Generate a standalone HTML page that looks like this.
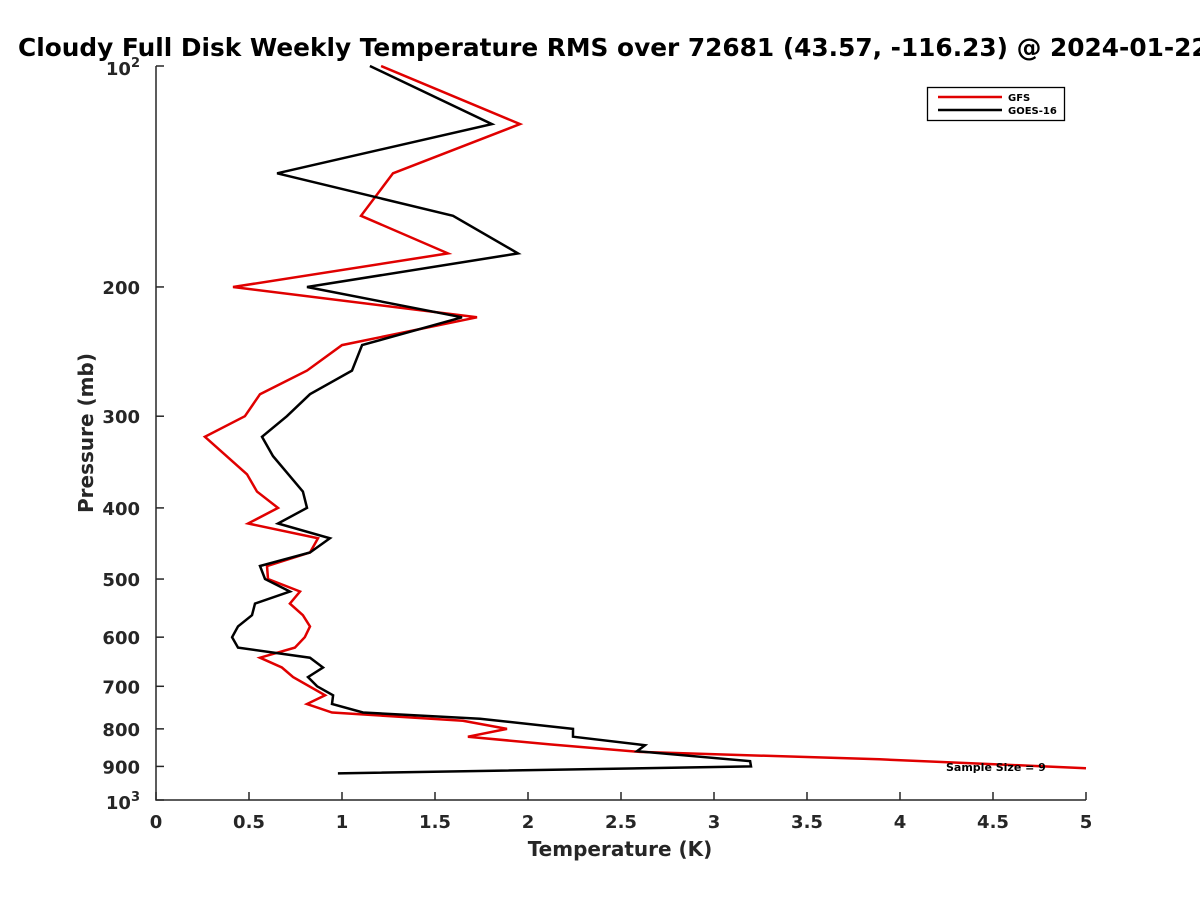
<!DOCTYPE html>
<html><head><meta charset="utf-8"><style>
body{margin:0;background:#fff;}
svg{display:block;font-family:"DejaVu Sans","Liberation Sans",sans-serif;font-weight:bold;}
</style></head><body>
<svg id="chart" width="1200" height="900" viewBox="0 0 1200 900">
<text x="18" y="56" font-size="24.8" fill="#000">Cloudy Full Disk Weekly Temperature RMS over 72681 (43.57, -116.23) @ 2024-01-22</text>
<g id="axes"></g>
<g id="series"></g>
<g>
<rect x="927.5" y="87.5" width="137" height="33" fill="#fff" stroke="#000" stroke-width="1.3"/>
<line x1="938" y1="97" x2="1002" y2="97" stroke="#e00000" stroke-width="2.5"/>
<text x="1008" y="101" font-size="10" fill="#000">GFS</text>
<line x1="938" y1="110" x2="1002" y2="110" stroke="#000" stroke-width="2.5"/>
<text x="1008" y="114" font-size="10" fill="#000">GOES-16</text>
</g>
<text x="946" y="771" font-size="11" fill="#000">Sample Size = 9</text>
<text x="620" y="856" font-size="20" fill="#262626" text-anchor="middle">Temperature (K)</text>
<text x="0" y="0" font-size="20" fill="#262626" text-anchor="middle" transform="translate(93,433) rotate(-90)">Pressure (mb)</text>
</svg>
<script>
const xTicks=[0,0.5,1,1.5,2,2.5,3,3.5,4,4.5,5];
const xTickLabels=["0","0.5","1","1.5","2","2.5","3","3.5","4","4.5","5"];
const yTicks=[200,300,400,500,600,700,800,900];
const gfsP=[100,120,140,160,180,200,220,240,260,280,300,320,360,380,400,420,440,460,480,500,520,540,560,580,600,620,640,660,680,720,740,760,780,800,820,840,860,880,905];
const gfsT=[1.21,1.957,1.274,1.102,1.57,0.414,1.726,1.0,0.812,0.559,0.478,0.263,0.489,0.543,0.656,0.495,0.871,0.828,0.597,0.602,0.774,0.72,0.79,0.828,0.80,0.747,0.559,0.677,0.737,0.909,0.812,0.946,1.65,1.887,1.677,2.118,2.6,3.89,5.0];
const goesP=[100,120,140,160,180,200,220,240,260,280,300,320,340,380,400,420,440,460,480,500,520,540,560,580,600,620,640,660,680,700,720,740,760,775,800,820,842,858,885,900,920];
const goesT=[1.15,1.806,0.651,1.597,1.946,0.812,1.645,1.108,1.054,0.828,0.704,0.57,0.629,0.79,0.812,0.656,0.935,0.828,0.559,0.586,0.72,0.532,0.516,0.441,0.409,0.441,0.828,0.898,0.817,0.866,0.952,0.946,1.113,1.742,2.242,2.242,2.629,2.586,3.194,3.199,0.978];
const X0=156,X1=1086,Y0=66,Y1=800;
const sx=v=>X0+(v-0)/(5-0)*(X1-X0);
const sy=p=>Y0+Math.log10(p/100)*(Y1-Y0);
const NS="http://www.w3.org/2000/svg";
function mk(tag,attrs,parent){const e=document.createElementNS(NS,tag);for(const k in attrs)e.setAttribute(k,attrs[k]);parent.appendChild(e);return e;}
const axes=document.getElementById('axes');
const ax=mk('path',{d:`M${X0},${Y0}V${Y1}H${X1}`,fill:'none',stroke:'#262626','stroke-width':1.5},axes);


xTicks.forEach((v,i)=>{const x=sx(v);
 const t=mk('line',{x1:x,y1:Y1,x2:x,y2:Y1-8,stroke:'#262626','stroke-width':1.5},axes);
 
 
 const l=mk('text',{x:x,y:Y1+28,'font-size':18,fill:'#262626','text-anchor':'middle'},axes);
 l.textContent=xTickLabels[i];
 
 
});
[100].concat(yTicks).concat([1000]).forEach(p=>{const y=sy(p);
 const t=mk('line',{x1:X0,y1:y,x2:X0+8,y2:y,stroke:'#262626','stroke-width':1.5},axes);
 
 
});
yTicks.forEach(p=>{const y=sy(p);
 const l=mk('text',{x:X0-16,y:y+7,'font-size':18,fill:'#262626','text-anchor':'end'},axes);
 l.textContent=String(p);
 
 
});
[[100,"2",Y0],[1000,"3",Y1]].forEach(([p,e,y])=>{
 const l=mk('text',{x:X0-16,y:y+9,'font-size':18,fill:'#262626','text-anchor':'end'},axes);
 l.textContent="10";
 const s=mk('tspan',{dy:-8,'font-size':13},l);s.textContent=e;
 
 
});
const series=document.getElementById('series');
function drawLine(P,T,color,name){
 const pts=P.map((p,i)=>sx(T[i]).toFixed(1)+','+sy(p).toFixed(1)).join(' ');
 const pl=mk('polyline',{points:pts,fill:'none',stroke:color,'stroke-width':2.5,'stroke-linejoin':'miter'},series);
 
 
}
drawLine(gfsP,gfsT,'#e00000','gfs-line');
drawLine(goesP,goesT,'#000','goes16-line');
</script>
</body></html>
